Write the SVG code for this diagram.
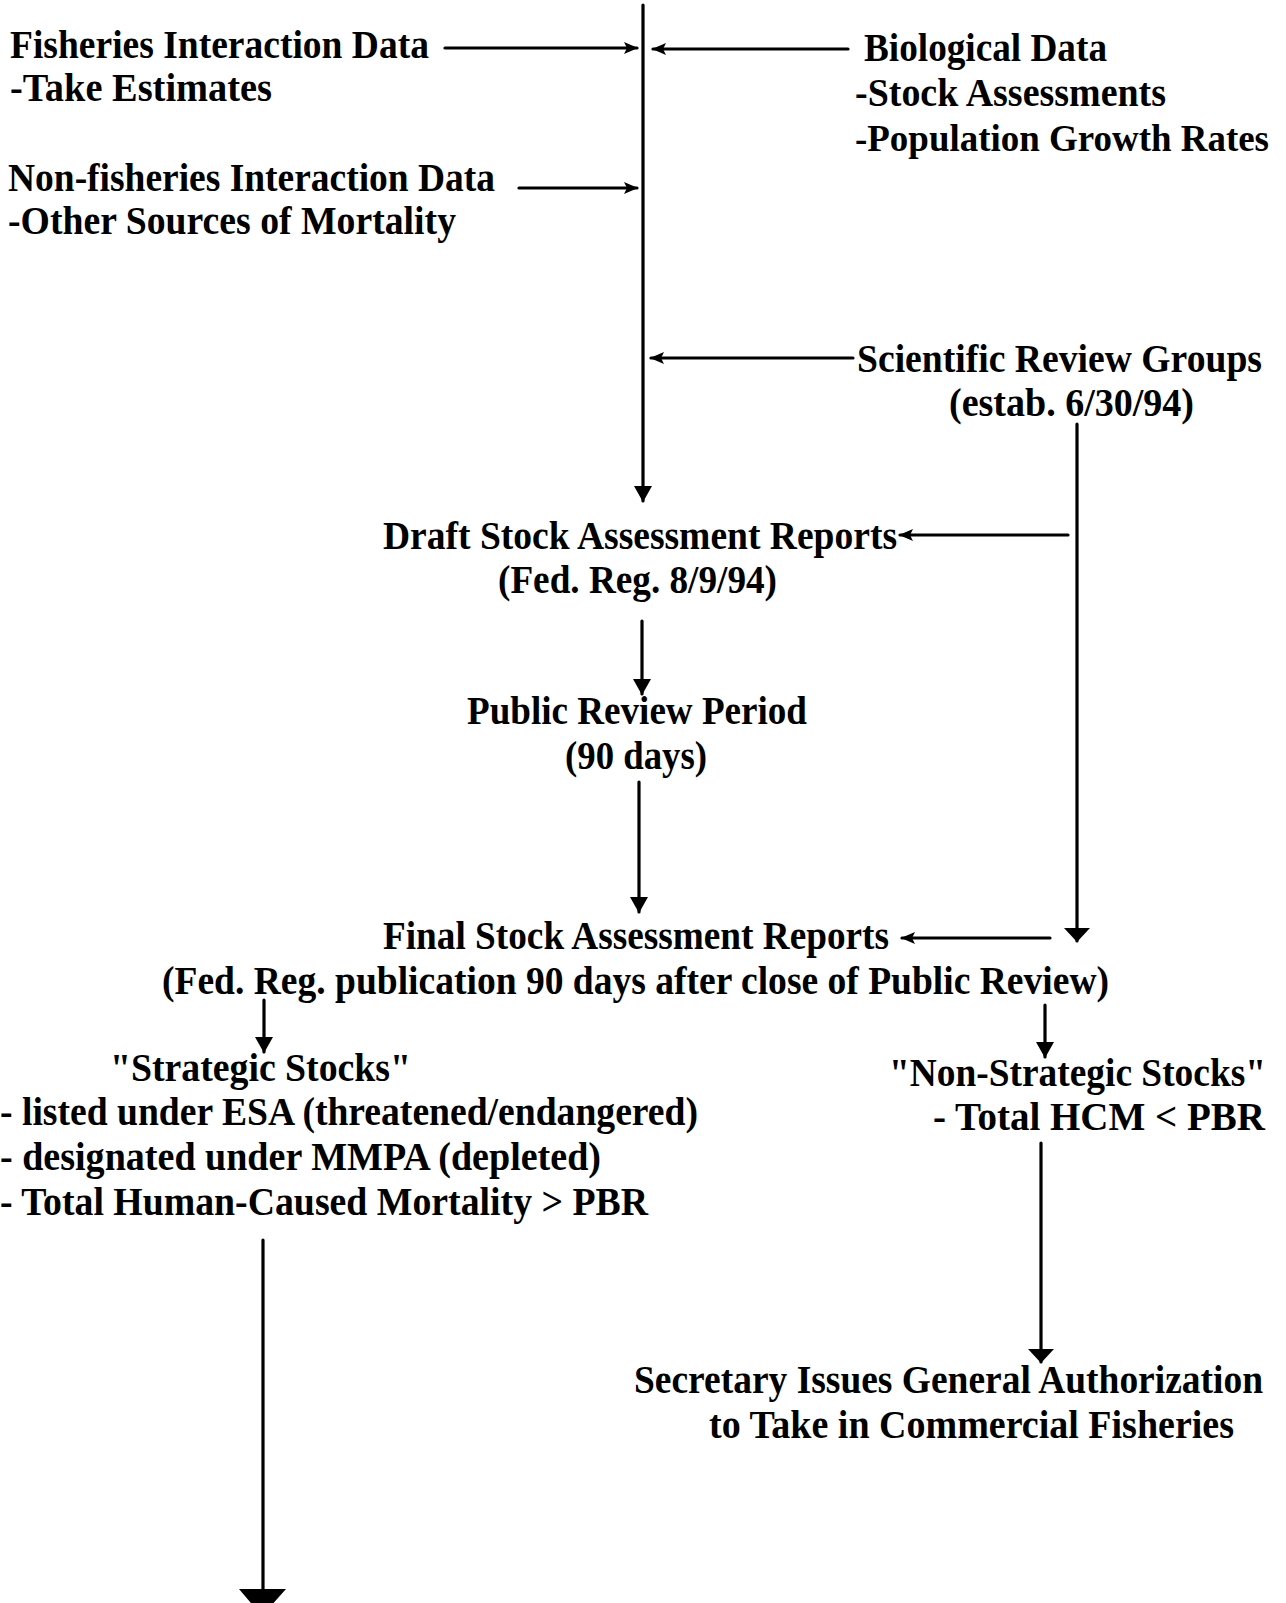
<svg xmlns="http://www.w3.org/2000/svg" width="1286" height="1603" viewBox="0 0 1286 1603">
<style>
text{font-family:"Liberation Serif","Times New Roman",serif;font-weight:bold;font-size:39px;fill:#000}
.c line{stroke:#000;stroke-width:3.2;fill:none;stroke-linecap:round}
</style>
<defs>
<marker id="ah" viewBox="0 0 14 12" refX="13" refY="6" markerWidth="14" markerHeight="12" markerUnits="userSpaceOnUse" orient="auto">
<path d="M0,0 L14,6 L0,12 L3,6 Z" fill="#000"/>
</marker>
<marker id="ahD" viewBox="0 0 16 18" refX="15" refY="9" markerWidth="16" markerHeight="18" markerUnits="userSpaceOnUse" orient="auto">
<path d="M0,0 L16,9 L0,18 Z" fill="#000"/>
</marker>
<marker id="ahL" viewBox="0 0 14 26" refX="13" refY="13" markerWidth="14" markerHeight="26" markerUnits="userSpaceOnUse" orient="auto">
<path d="M0,0 L14,13 L0,26 Z" fill="#000"/>
</marker>
</defs>
<rect width="1286" height="1603" fill="#fff"/>
<g id="fisheries"><text x="10" y="58" textLength="419" lengthAdjust="spacingAndGlyphs">Fisheries Interaction Data</text><text x="10" y="101" textLength="262" lengthAdjust="spacingAndGlyphs">-Take Estimates</text></g>
<g id="nonfisheries"><text x="8" y="191" textLength="487" lengthAdjust="spacingAndGlyphs">Non-fisheries Interaction Data</text><text x="8" y="234" textLength="448" lengthAdjust="spacingAndGlyphs">-Other Sources of Mortality</text></g>
<g id="biological"><text x="864" y="61" textLength="243" lengthAdjust="spacingAndGlyphs">Biological Data</text><text x="855" y="106" textLength="311" lengthAdjust="spacingAndGlyphs">-Stock Assessments</text><text x="855" y="151" style="font-size:37px" textLength="414" lengthAdjust="spacingAndGlyphs">-Population Growth Rates</text></g>
<g id="srg"><text x="857" y="372" textLength="405" lengthAdjust="spacingAndGlyphs">Scientific Review Groups</text><text x="949" y="416" textLength="245" lengthAdjust="spacingAndGlyphs">(estab. 6/30/94)</text></g>
<g id="draft"><text x="383" y="549" textLength="514" lengthAdjust="spacingAndGlyphs">Draft Stock Assessment Reports</text><text x="498" y="593" textLength="279" lengthAdjust="spacingAndGlyphs">(Fed. Reg. 8/9/94)</text></g>
<g id="public"><text x="467" y="724" textLength="340" lengthAdjust="spacingAndGlyphs">Public Review Period</text><text x="565" y="769" textLength="142" lengthAdjust="spacingAndGlyphs">(90 days)</text></g>
<g id="final"><text x="383" y="949" textLength="506" lengthAdjust="spacingAndGlyphs">Final Stock Assessment Reports</text><text x="162" y="994" textLength="947" lengthAdjust="spacingAndGlyphs">(Fed. Reg. publication 90 days after close of Public Review)</text></g>
<g id="strategic"><text x="110" y="1081" textLength="301" lengthAdjust="spacingAndGlyphs">"Strategic Stocks"</text><text x="0" y="1125" textLength="698" lengthAdjust="spacingAndGlyphs">- listed under ESA (threatened/endangered)</text><text x="0" y="1170" textLength="601" lengthAdjust="spacingAndGlyphs">- designated under MMPA (depleted)</text><text x="0" y="1215" textLength="648" lengthAdjust="spacingAndGlyphs">- Total Human-Caused Mortality &gt; PBR</text></g>
<g id="nonstrategic"><text x="889" y="1086" textLength="377" lengthAdjust="spacingAndGlyphs">"Non-Strategic Stocks"</text><text x="933" y="1130" textLength="332" lengthAdjust="spacingAndGlyphs">- Total HCM &lt; PBR</text></g>
<g id="secretary"><text x="634" y="1393" textLength="629" lengthAdjust="spacingAndGlyphs">Secretary Issues General Authorization</text><text x="709" y="1438" textLength="525" lengthAdjust="spacingAndGlyphs">to Take in Commercial Fisheries</text></g>
<g id="connectors" class="c">
<line x1="643" y1="5" x2="643" y2="501" marker-end="url(#ahD)"/>
<line x1="445" y1="48" x2="637" y2="48" marker-end="url(#ah)"/>
<line x1="848" y1="49" x2="653" y2="49" marker-end="url(#ah)"/>
<line x1="519" y1="188" x2="637" y2="188" marker-end="url(#ah)"/>
<line x1="853" y1="358" x2="651" y2="358" marker-end="url(#ah)"/>
<line x1="1077" y1="424" x2="1077" y2="941" marker-end="url(#ahL)"/>
<line x1="1068" y1="535" x2="900" y2="535" marker-end="url(#ah)"/>
<line x1="642" y1="621" x2="642" y2="694" marker-end="url(#ahD)"/>
<line x1="639" y1="782" x2="639" y2="912" marker-end="url(#ahD)"/>
<line x1="1050" y1="938" x2="902" y2="938" marker-end="url(#ah)"/>
<line x1="264" y1="1000" x2="264" y2="1052" marker-end="url(#ahD)"/>
<line x1="1045" y1="1005" x2="1045" y2="1057" marker-end="url(#ahD)"/>
<line x1="1041" y1="1143" x2="1041" y2="1362" marker-end="url(#ahL)"/>
<line x1="263" y1="1240" x2="263" y2="1595"/>
</g>
<polygon points="239,1589 286,1589 262,1616" fill="#000"/>
</svg>
